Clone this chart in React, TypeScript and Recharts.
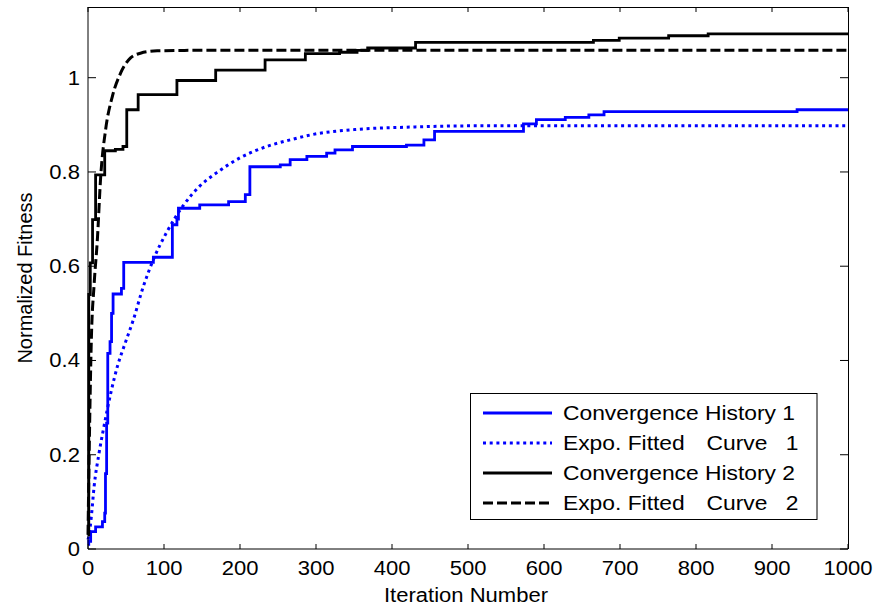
import React from "react";
import { LineChart, Line, XAxis, YAxis, Label } from "recharts";

// ticks
const xTicks = [0, 100, 200, 300, 400, 500, 600, 700, 800, 900, 1000];
const yTicks = [0, 0.2, 0.4, 0.6, 0.8, 1];

// Convergence History 1 (blue, step)
const hist1Iter = [0, 1, 3.5, 10, 19, 22, 23, 24.5, 26, 29, 31, 33, 44, 47, 86, 111, 117, 119, 147, 185, 207, 213, 253, 266, 288, 314, 325, 348, 419, 442, 456, 573, 590, 628, 659, 679, 933, 1000];
const hist1Fit = [0.01, 0.016, 0.037, 0.047, 0.058, 0.076, 0.16, 0.267, 0.415, 0.44, 0.5, 0.541, 0.553, 0.608, 0.619, 0.688, 0.7, 0.723, 0.73, 0.737, 0.752, 0.811, 0.815, 0.826, 0.833, 0.84, 0.847, 0.854, 0.857, 0.868, 0.886, 0.902, 0.911, 0.916, 0.921, 0.928, 0.932, 0.932];

// Expo. fitted curve 1 (blue, dotted)
const fit1Iter = [0, 1, 4.4, 8, 14.5, 21, 30, 38.6, 49.6, 59.6, 72.8, 86, 103.5, 125, 147, 169, 200, 235, 266, 294, 351, 419, 522, 1000];
const fit1Val = [0.02, 0.026, 0.069, 0.132, 0.203, 0.26, 0.331, 0.387, 0.44, 0.486, 0.557, 0.614, 0.672, 0.728, 0.77, 0.798, 0.83, 0.854, 0.868, 0.879, 0.89, 0.895, 0.898, 0.898];

// Convergence History 2 (black, step)
const hist2Iter = [0, 1, 3, 6, 10, 22, 36, 46, 51, 66, 117, 168, 233, 286, 331, 354, 368, 431, 665, 699, 764, 816, 1000];
const hist2Fit = [0.03, 0.54, 0.607, 0.699, 0.794, 0.845, 0.848, 0.854, 0.932, 0.964, 0.994, 1.016, 1.038, 1.051, 1.054, 1.058, 1.063, 1.075, 1.079, 1.084, 1.089, 1.093, 1.093];

// Expo. fitted curve 2 (black, dashed)
const fit2Iter = [0, 2, 4.4, 8, 12.3, 16.7, 23.2, 32, 43, 56, 69, 91, 135, 1000];
const fit2Val = [0.03, 0.25, 0.444, 0.56, 0.656, 0.79, 0.89, 0.96, 1.01, 1.042, 1.052, 1.057, 1.058, 1.058];

const zip = (xs: number[], ys: number[]) => xs.map((x, i) => ({ x, y: ys[i] }));

const series = [
  { name: "Convergence History 1", label: ["Convergence History 1"], data: zip(hist1Iter, hist1Fit), color: "#0000ff", dash: undefined, type: "stepAfter", width: 2.8 },
  { name: "Expo. Fitted Curve 1", label: ["Expo. Fitted", "Curve", "1"], data: zip(fit1Iter, fit1Val), color: "#0000ff", dash: "3 3.7", type: "monotone", width: 3 },
  { name: "Convergence History 2", label: ["Convergence History 2"], data: zip(hist2Iter, hist2Fit), color: "#000000", dash: undefined, type: "stepAfter", width: 2.8 },
  { name: "Expo. Fitted Curve 2", label: ["Expo. Fitted", "Curve", "2"], data: zip(fit2Iter, fit2Val), color: "#000000", dash: "10 4", type: "monotone", width: 3 },
];

const FONT = '"Liberation Sans", Arial, Helvetica, sans-serif';
const SX = 1.13; // the original figure is stretched a bit horizontally

// plot box (matches chart margins + axis sizes below)
const W = 874, H = 607;
const M = { top: 7, right: 26, left: 0, bottom: 0 };
const Y_W = 88, X_H = 58;
const box = { l: M.left + Y_W, r: W - M.right, t: M.top, b: H - M.bottom - X_H };
const X_MAX = 1000, Y_MAX = 1.15;

const BottomTick = ({ x, y, payload }: any) => (
  <g>
    <line x1={x} x2={x} y1={y} y2={y - 5} stroke="#000" />
    <text transform={`translate(${x},${y + 26}) scale(${SX},1)`} textAnchor="middle" fontSize={19.5} fontFamily={FONT} fill="#000">
      {payload.value}
    </text>
  </g>
);

const LeftTick = ({ x, y, payload }: any) => (
  <g>
    <line x1={x} x2={x + 8} y1={y} y2={y} stroke="#000" />
    <text transform={`translate(${x - 8},${y + 7}) scale(${SX},1)`} textAnchor="end" fontSize={19.5} fontFamily={FONT} fill="#000">
      {String(payload.value)}
    </text>
  </g>
);

// top/right edges of the matlab box, with inward ticks
function BoxEdges() {
  const sx = (v: number) => box.l + (v / X_MAX) * (box.r - box.l);
  const sy = (v: number) => box.b - (v / Y_MAX) * (box.b - box.t);
  return (
    <g>
      <line x1={box.l} x2={box.r + 0.5} y1={box.t + 0.5} y2={box.t + 0.5} stroke="#000" />
      <line x1={box.r + 0.5} x2={box.r + 0.5} y1={box.t} y2={box.b} stroke="#000" />
      {xTicks.map((t) => (
        <line key={"t" + t} x1={sx(t)} x2={sx(t)} y1={box.t} y2={box.t + 5} stroke="#000" />
      ))}
      {yTicks.map((t) => (
        <line key={"r" + t} x1={box.r} x2={box.r - 8} y1={sy(t)} y2={sy(t)} stroke="#000" />
      ))}
    </g>
  );
}

function LegendBox() {
  const rows = [413, 443, 473, 503];
  return (
    <svg width={W} height={H} style={{ position: "absolute", left: 0, top: 0, pointerEvents: "none" }}>
      <BoxEdges />
      <rect x={470.5} y={393.5} width={346.5} height={126} fill="#fff" stroke="#000" strokeWidth={1} />
      {series.map((s, i) => (
        <g key={s.name}>
          <line x1={483} x2={552} y1={rows[i]} y2={rows[i]} stroke={s.color} strokeWidth={s.width} strokeDasharray={s.dash} />
          <text transform={`translate(563,${rows[i] + 7}) scale(1.17,1)`} fontSize={19.5} fontFamily={FONT} fill="#000">
            {s.label[0]}
          </text>
          {s.label.length > 1 && (
            <>
              <text transform={`translate(706.5,${rows[i] + 7}) scale(1.17,1)`} fontSize={19.5} fontFamily={FONT} fill="#000">
                {s.label[1]}
              </text>
              <text transform={`translate(798.5,${rows[i] + 7}) scale(1.17,1)`} textAnchor="end" fontSize={19.5} fontFamily={FONT} fill="#000">
                {s.label[2]}
              </text>
            </>
          )}
        </g>
      ))}
    </svg>
  );
}

export default function App() {
  return (
    <div style={{ position: "absolute", left: 0, top: 0, width: W, height: H, background: "#fff" }}>
      <LineChart width={W} height={H} margin={M}>
        <XAxis
          dataKey="x"
          type="number"
          domain={[0, X_MAX]}
          ticks={xTicks}
          height={X_H}
          tickLine={false}
          tickSize={0}
          tickMargin={0}
          interval={0}
          axisLine={{ stroke: "#000" }}
          tick={(p: any) => <BottomTick {...p} />}
        >
          <Label
            content={({ viewBox }: any) => (
              <text
                transform={`translate(${viewBox.x + viewBox.width / 2 - 2},${viewBox.y + 53}) scale(${SX},1)`}
                textAnchor="middle"
                fontSize={19.5}
                fontFamily={FONT}
                fill="#000"
              >
                Iteration Number
              </text>
            )}
          />
        </XAxis>
        <YAxis
          type="number"
          domain={[0, Y_MAX]}
          ticks={yTicks}
          width={Y_W}
          tickLine={false}
          tickSize={0}
          tickMargin={0}
          interval={0}
          axisLine={{ stroke: "#000" }}
          tick={(p: any) => <LeftTick {...p} />}
        >
          <Label
            content={({ viewBox }: any) => (
              <text
                transform={`translate(31.5,${viewBox.y + viewBox.height / 2}) rotate(-90)`}
                textAnchor="middle"
                fontSize={20}
                fontFamily={FONT}
                fill="#000"
              >
                Normalized Fitness
              </text>
            )}
          />
        </YAxis>
        {series.map((s) => (
          <Line
            key={s.name}
            data={s.data}
            dataKey="y"
            name={s.name}
            type={s.type as any}
            stroke={s.color}
            strokeWidth={s.width}
            strokeDasharray={s.dash}
            dot={false}
            activeDot={false}
            isAnimationActive={false}
          />
        ))}
      </LineChart>
      <LegendBox />
    </div>
  );
}
